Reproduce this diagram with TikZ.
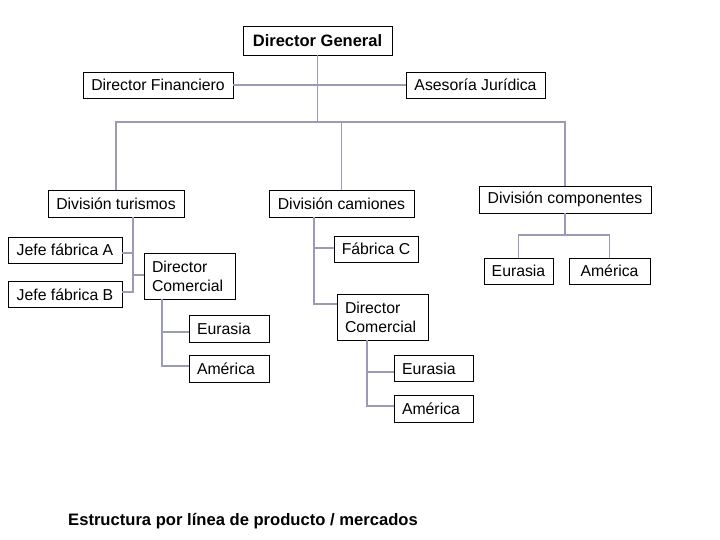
\documentclass[tikz,border=0pt]{standalone}
\usepackage{fontspec}
\setmainfont{Liberation Sans}
\definecolor{linec}{RGB}{155,155,182}
\begin{document}
\begin{tikzpicture}[x=1pt,y=-1pt,
  box/.style={draw=black, line width=0.8pt, inner sep=0pt, align=center,
    font=\fontsize{15.8}{19}\selectfont},
  lbox/.style={draw=black, line width=0.8pt, inner ysep=0pt, inner xsep=8pt, align=left,
    font=\fontsize{15.8}{19}\selectfont},
  conn/.style={draw=linec, line width=1.4pt}]
\useasboundingbox (0,0) rectangle (720,540);

% top level
\node[box, font=\bfseries\fontsize{16.5}{19}\selectfont, minimum width=149pt, minimum height=29pt] (dg) at (317.5,40.5) {Director General};
\node[box, minimum width=150pt, minimum height=26pt] (df) at (158,85) {Director Financiero};
\node[box, minimum width=139pt, minimum height=26pt] (aj) at (475.5,85) {Asesoría Jurídica};

% divisions
\node[box, minimum width=136pt, minimum height=27pt] (dt) at (116,203.5) {División turismos};
\node[box, minimum width=145pt, minimum height=27pt] (dc) at (341.5,203.5) {División camiones};
\node[box, minimum width=172pt, minimum height=27pt] (dco) at (565,199.5) {División componentes};

% turismos
\node[box, minimum width=114pt, minimum height=26pt] (ja) at (65,250) {Jefe fábrica A};
\node[box, minimum width=114pt, minimum height=26pt] (jb) at (65,294.5) {Jefe fábrica B};
\node[lbox, text width=75pt, minimum height=46pt] (dct) at (189.5,276) {Director\\Comercial};
\node[lbox, text width=64pt, minimum height=27pt] (eut) at (229,328.5) {Eurasia};
\node[lbox, text width=64pt, minimum height=27pt] (amt) at (229,368.5) {América};

% camiones
\node[box, minimum width=84pt, minimum height=26pt] (fc) at (376,249) {Fábrica C};
\node[lbox, text width=75pt, minimum height=46pt] (dcc) at (382.5,317) {Director\\Comercial};
\node[lbox, text width=63pt, minimum height=26pt] (euc) at (433.5,368.5) {Eurasia};
\node[lbox, text width=63pt, minimum height=27pt] (amc) at (433.5,408.5) {América};

% componentes
\node[box, minimum width=69pt, minimum height=26pt] (euco) at (518.5,271) {Eurasia};
\node[box, minimum width=81pt, minimum height=26pt] (amco) at (609.5,271) {América};

% title
\node[anchor=base west, inner sep=0pt, font=\bfseries\fontsize{16.6}{19}\selectfont] (title) at (68,525) {Estructura por línea de producto / mercados};

% connectors top
\draw[conn] (dg.south) -- (dg.south |- 0,122);
\draw[conn] (df.east) -- (aj.west);
\draw[conn] (dt.north) -- (dt.north |- 0,122) -- (dco.north |- 0,122) -- (dco.north);
\draw[conn] (dc.north) -- (dc.north |- 0,122);

% turismos connectors
\draw[conn] (dt.south -| 133,0) -- (133,292) -- (jb.east |- 0,292);
\draw[conn] (ja.east |- 0,253) -- (133,253);
\draw[conn] (133,275) -- (dct.west |- 0,275);
\draw[conn] (dct.south -| 162,0) -- (162,366) -- (amt.west |- 0,366);
\draw[conn] (162,332) -- (eut.west |- 0,332);

% camiones connectors
\draw[conn] (dc.south -| 314,0) -- (314,304) -- (dcc.west |- 0,304);
\draw[conn] (314,248) -- (fc.west |- 0,248);
\draw[conn] (dcc.south -| 367,0) -- (367,406) -- (amc.west |- 0,406);
\draw[conn] (367,372) -- (euc.west |- 0,372);

% componentes connectors
\draw[conn] (dco.south) -- (dco.south |- 0,235);
\draw[conn] (euco.north) -- (euco.north |- 0,235) -- (amco.north |- 0,235) -- (amco.north);
\end{tikzpicture}
\end{document}
